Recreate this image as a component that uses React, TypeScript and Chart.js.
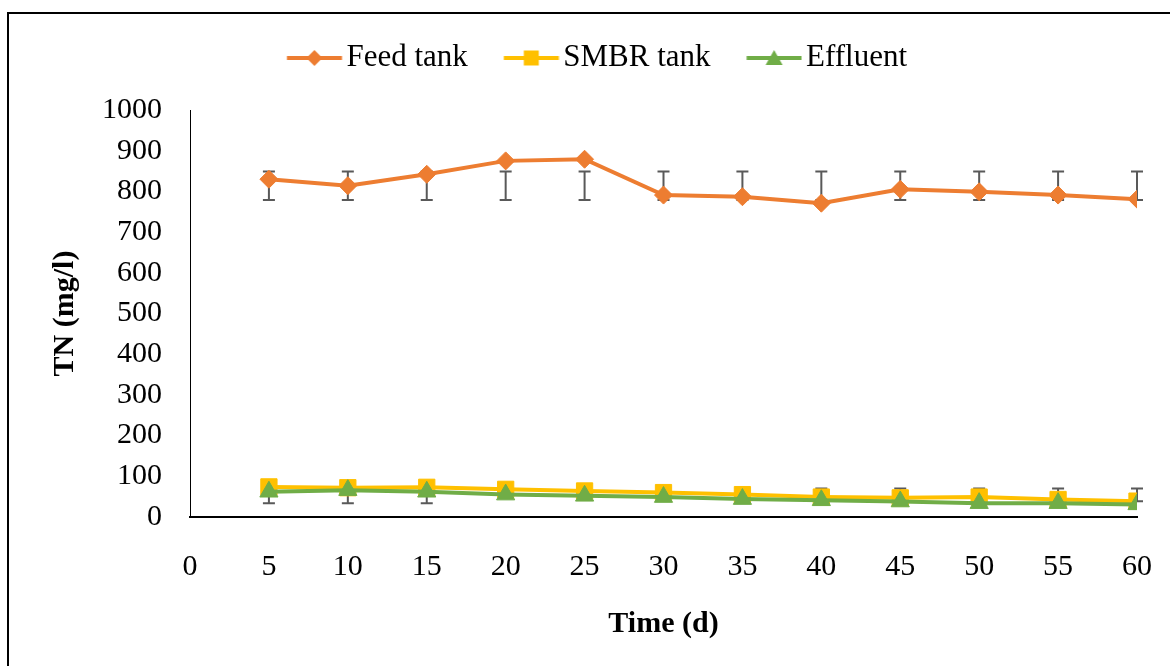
import React, { useEffect, useRef } from 'react';
import { Chart, registerables } from 'chart.js';

Chart.register(...registerables);

// ---- data ----
const days = [5, 10, 15, 20, 25, 30, 35, 40, 45, 50, 55, 60];
const seriesLabels = ['Feed tank', 'SMBR tank', 'Effluent'];
const feedTank = [830, 814, 842, 875, 879, 791, 787, 771, 805, 799, 791, 781];
const smbrTank = [74, 72, 73, 68, 64, 60, 55, 49, 47, 49, 43, 39];
const effluent = [62, 66, 62, 55, 52, 49, 44, 41, 38, 34, 34, 31];
// error bar ends (absolute values), null = no bar
const feedErrLow = [779, 779, 779, 779, 779, 779, 779, 779, 779, 779, 779, 779];
const feedErrHigh = [849, 849, 849, 849, 849, 849, 849, 849, 849, 849, 849, 849];
const smbrErrLow = [null, null, null, null, null, null, null, 49, 47, 49, 43, 39];
const smbrErrHigh = [null, null, null, null, null, null, null, 70, 70, 70, 70, 70];
const effErrLow = [34, 34, 34, null, null, null, null, null, null, null, null, null];
const effErrHigh = [62, 66, 62, null, null, null, null, null, null, null, null, null];
const xTicksMin = 0;
const xTicksMax = 60;
const xStep = 5;
const yMin = 0;
const yMax = 1000;
const yStep = 100;

const FONT = '"Liberation Serif", "Times New Roman", serif';
const ORANGE = '#ED7D31';
const YELLOW = '#FFC000';
const GREEN = '#70AD47';
const ERR = '#595959';

function makeIcon(color: string, shape: string): HTMLCanvasElement {
  const c = document.createElement('canvas');
  c.width = 64;
  c.height = 26;
  const g = c.getContext('2d')!;
  const cy = 13;
  const x0 = 8.25;
  const x1 = 63.25;
  const cx = (x0 + x1) / 2;
  g.strokeStyle = color;
  g.lineWidth = 4;
  g.beginPath();
  g.moveTo(x0, cy);
  g.lineTo(x1, cy);
  g.stroke();
  g.fillStyle = color;
  g.beginPath();
  if (shape === 'rectRot') {
    const r = 8;
    g.moveTo(cx, cy - r);
    g.lineTo(cx + r, cy);
    g.lineTo(cx, cy + r);
    g.lineTo(cx - r, cy);
  } else if (shape === 'rect') {
    const h = 7.5;
    g.rect(cx - h, cy - h, 2 * h, 2 * h);
  } else {
    const w = 8.5;
    g.moveTo(cx, cy - 8);
    g.lineTo(cx + w, cy + 7);
    g.lineTo(cx - w, cy + 7);
  }
  g.closePath();
  g.fill();
  return c;
}

const errorBarPlugin = {
  id: 'errorBars',
  beforeDatasetsDraw(chart: any) {
    const ctx = chart.ctx;
    const yScale = chart.scales.y;
    ctx.save();
    ctx.strokeStyle = ERR;
    ctx.lineWidth = 2;
    chart.data.datasets.forEach((ds: any, i: number) => {
      const meta = chart.getDatasetMeta(i);
      if (!ds.errLow) return;
      meta.data.forEach((pt: any, j: number) => {
        const lo = ds.errLow[j];
        const hi = ds.errHigh[j];
        if (lo == null || hi == null) return;
        const yl = yScale.getPixelForValue(lo);
        const yh = yScale.getPixelForValue(hi);
        const x = pt.x;
        ctx.beginPath();
        ctx.moveTo(x, yl);
        ctx.lineTo(x, yh);
        ctx.moveTo(x - 6, yl);
        ctx.lineTo(x + 6, yl);
        ctx.moveTo(x - 6, yh);
        ctx.lineTo(x + 6, yh);
        ctx.stroke();
      });
    });
    ctx.restore();
  },
};

export default function App() {
  const ref = useRef<HTMLCanvasElement | null>(null);

  useEffect(() => {
    if (!ref.current) return;
    const icons = [makeIcon(ORANGE, 'rectRot'), makeIcon(YELLOW, 'rect'), makeIcon(GREEN, 'triangle')];
    const mk = (vals: number[]) => days.map((d, i) => ({ x: d, y: vals[i] }));
    const chart = new Chart(ref.current, {
      type: 'line',
      data: {
        datasets: [
          {
            label: seriesLabels[0],
            data: mk(feedTank),
            borderColor: ORANGE,
            backgroundColor: ORANGE,
            borderWidth: 4,
            pointStyle: 'rectRot',
            pointRadius: 9,
            pointBorderWidth: 1,
            pointBorderColor: ORANGE,
            pointBackgroundColor: ORANGE,
            tension: 0,
            order: 2,
            errLow: feedErrLow,
            errHigh: feedErrHigh,
          } as any,
          {
            label: seriesLabels[1],
            data: mk(smbrTank),
            borderColor: YELLOW,
            backgroundColor: YELLOW,
            borderWidth: 4,
            pointStyle: 'rect',
            pointRadius: 11.5,
            pointBorderWidth: 1,
            pointBorderColor: YELLOW,
            pointBackgroundColor: YELLOW,
            tension: 0,
            order: 1,
            errLow: smbrErrLow,
            errHigh: smbrErrHigh,
          } as any,
          {
            label: seriesLabels[2],
            data: mk(effluent),
            borderColor: GREEN,
            backgroundColor: GREEN,
            borderWidth: 4,
            pointStyle: 'triangle',
            pointRadius: 10.5,
            pointBorderWidth: 1,
            pointBorderColor: GREEN,
            pointBackgroundColor: GREEN,
            tension: 0,
            order: 0,
            errLow: effErrLow,
            errHigh: effErrHigh,
          } as any,
        ],
      },
      options: {
        animation: false,
        responsive: false,
        maintainAspectRatio: false,
        layout: { padding: { left: 51.5, right: 33, top: -11, bottom: 0 } },
        plugins: {
          legend: {
            position: 'top',
            weight: 1000,
            labels: {
              usePointStyle: true,
              pointStyleWidth: 40.5,
              padding: 39.5,
              color: '#000',
              font: { family: FONT, size: 31 },
              generateLabels: (c: any) => {
                const base = (Chart as any).defaults.plugins.legend.labels.generateLabels(c);
                return base
                  .map((l: any) => ({ ...l, pointStyle: icons[l.datasetIndex], lineWidth: 0 }))
                  .sort((a: any, b: any) => a.datasetIndex - b.datasetIndex);
              },
            },
          },
          // empty spacer between legend and plot area
          title: {
            display: true,
            text: '',
            weight: 500,
            font: { size: 1 },
            padding: { top: 0, bottom: 25.3 },
          },
          tooltip: { enabled: false },
        },
        scales: {
          x: {
            type: 'linear',
            min: xTicksMin,
            max: xTicksMax,
            ticks: {
              stepSize: xStep,
              padding: 3,
              color: '#000',
              font: { family: FONT, size: 30 },
              maxRotation: 0,
              autoSkip: false,
            },
            grid: { display: true, color: 'rgba(0,0,0,0)', drawOnChartArea: false, drawTicks: true, tickLength: 29 },
            border: { display: true, color: '#000', width: 2 },
            title: {
              display: true,
              text: 'Time (d)',
              color: '#000',
              font: { family: FONT, size: 30, weight: 'bold' },
              padding: { top: 0, bottom: 24 },
            },
            afterFit: (s: any) => {
              s.height = 149;
            },
          },
          y: {
            min: yMin,
            max: yMax,
            ticks: {
              stepSize: yStep,
              padding: 28,
              color: '#000',
              font: { family: FONT, size: 30 },
              callback: (v: any) => String(v),
            },
            grid: { display: false, drawTicks: false },
            border: { display: true, color: '#000', width: 1 },
            title: {
              display: true,
              text: 'TN (mg/l)',
              color: '#000',
              font: { family: FONT, size: 30, weight: 'bold' },
              padding: { top: -13.5, bottom: 0 },
            },
            afterFit: (s: any) => {
              s.width = 129.5;
            },
          },
        },
      } as any,
      plugins: [errorBarPlugin],
    });
    return () => chart.destroy();
  }, []);

  return (
    <div
      style={{
        position: 'absolute',
        left: 7,
        top: 12,
        width: 1163,
        height: 654,
        boxSizing: 'border-box',
        borderLeft: '2px solid #000',
        borderTop: '2px solid #000',
        background: '#fff',
      }}
    >
      <canvas ref={ref} width={1161} height={652} style={{ display: 'block', width: 1161, height: 652 }} />
    </div>
  );
}
